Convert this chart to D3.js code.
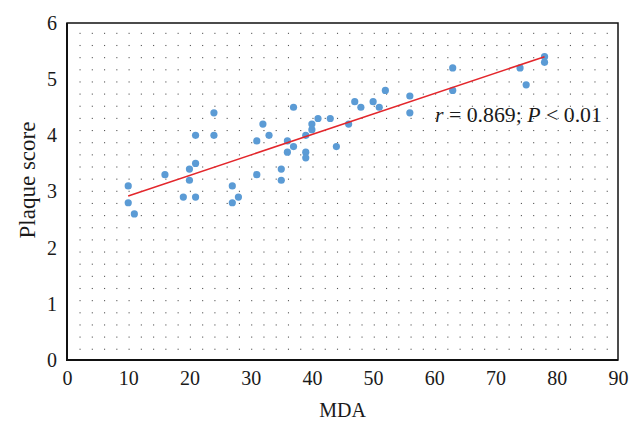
<!DOCTYPE html>
<html><head><meta charset="utf-8">
<script src="https://cdn.jsdelivr.net/npm/d3@7/dist/d3.min.js"></script>
<style>body{margin:0;background:#fff}svg{display:block}</style>
</head><body><svg id="c" width="642" height="431"></svg>
<script>
const mda     = [10,10,11,16,19,20,20,21,21,21,24,24,27,27,28,31,31,32,33,35,35,36,36,37,37,39,39,39,40,40,41,43,44,46,47,48,50,51,52,56,56,63,63,74,75,78,78];
const plaque  = [3.1,2.8,2.6,3.3,2.9,3.4,3.2,3.5,4.0,2.9,4.4,4.0,3.1,2.8,2.9,3.9,3.3,4.2,4.0,3.4,3.2,3.9,3.7,4.5,3.8,4.0,3.7,3.6,4.2,4.1,4.3,4.3,3.8,4.2,4.6,4.5,4.6,4.5,4.8,4.7,4.4,5.2,4.8,5.2,4.9,5.4,5.3];
const xTicks  = [0,10,20,30,40,50,60,70,80,90];
const yTicks  = [0,1,2,3,4,5,6];
const fitX    = [10,78];
const fitY    = [2.92,5.40];
const xLabel  = "MDA";
const yLabel  = "Plaque score";

const svg = d3.select("#c");
const L = 67, R = 618, T = 23, B = 360;
const font = "'Liberation Serif','Times New Roman',serif";
const x = d3.scaleLinear().domain([0,90]).range([L,R]);
const y = d3.scaleLinear().domain([0,6]).range([B,T]);

// dotted background pattern
const g0 = svg.append("g");
const cols = d3.range(44).map(i => 80 + i*12.26);
const rows = d3.range(27).map(j => 33.3 + j*12.15);
rows.forEach(ry => cols.forEach(cx => {
  g0.append("rect").attr("x", cx-0.5).attr("y", ry-0.5).attr("width",1.1).attr("height",1.1).attr("fill","#555");
}));

// frame
svg.append("rect").attr("x",L).attr("y",T).attr("width",R-L).attr("height",B-T)
  .attr("fill","none").attr("stroke","#111").attr("stroke-width",1.5);
svg.append("line").attr("x1",L).attr("x2",L).attr("y1",T).attr("y2",B+1).attr("stroke","#111").attr("stroke-width",2);
svg.append("line").attr("x1",L-1).attr("x2",R).attr("y1",B).attr("y2",B).attr("stroke","#111").attr("stroke-width",2);

// axes
const xa = svg.append("g").attr("transform",`translate(0,${B})`)
  .call(d3.axisBottom(x).tickValues(xTicks).tickSize(0).tickPadding(11).tickFormat(d3.format("d")));
const ya = svg.append("g").attr("transform",`translate(${L},0)`)
  .call(d3.axisLeft(y).tickValues(yTicks).tickSize(0).tickPadding(10).tickFormat(d3.format("d")));
[xa,ya].forEach(a => {
  a.select(".domain").remove();
  a.selectAll("text").attr("font-family",font).attr("font-size",20).attr("fill","#1a1a1a");
});

// points
svg.append("g").selectAll("circle").data(mda.map((m,i)=>[m,plaque[i]])).join("circle")
  .attr("cx",d=>x(d[0])).attr("cy",d=>y(d[1])).attr("r",3.6).attr("fill","#5b9bd5");

// regression line
svg.append("line").attr("x1",x(fitX[0])).attr("y1",y(fitY[0])).attr("x2",x(fitX[1])).attr("y2",y(fitY[1]))
  .attr("stroke","#e3262b").attr("stroke-width",1.6);

// annotation
const ann = svg.append("text").attr("x",435).attr("y",122).attr("font-family",font).attr("font-size",21.8).attr("fill","#1a1a1a");
ann.append("tspan").attr("font-style","italic").text("r");
ann.append("tspan").text(" = 0.869; ");
ann.append("tspan").attr("font-style","italic").text("P");
ann.append("tspan").text(" < 0.01");

// axis labels
svg.append("text").attr("x",(L+R)/2).attr("y",417).attr("text-anchor","middle")
  .attr("font-family",font).attr("font-size",20).attr("fill","#1a1a1a").text(xLabel);
svg.append("text").attr("transform","translate(35,180) rotate(-90)").attr("text-anchor","middle")
  .attr("font-family",font).attr("font-size",23).attr("fill","#1a1a1a").text(yLabel);
</script></body></html>
